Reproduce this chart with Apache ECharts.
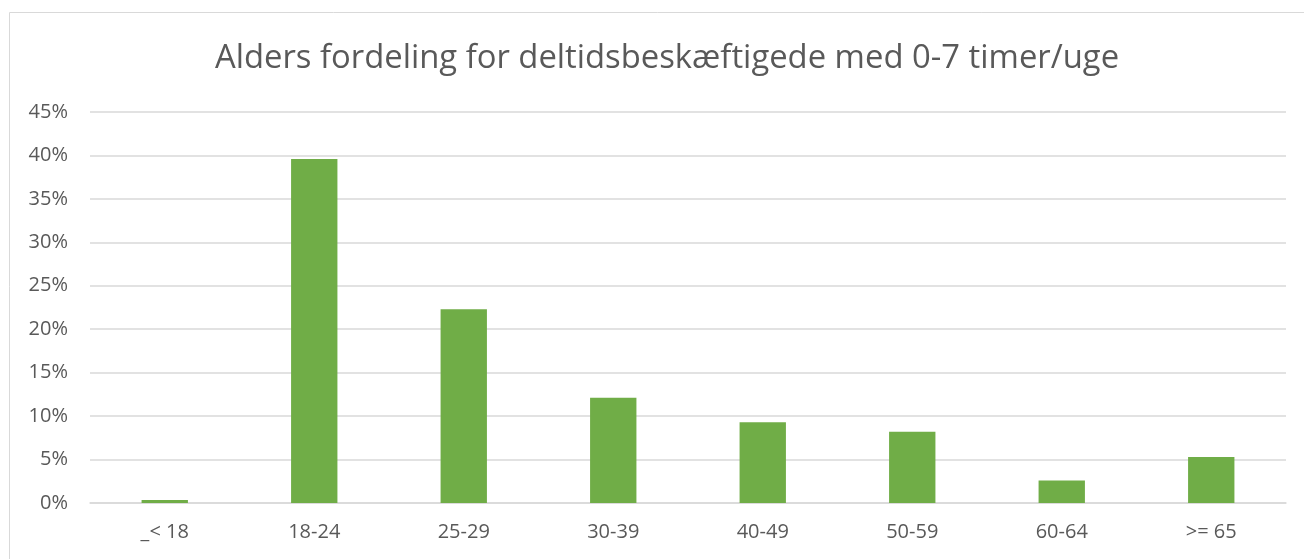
<!DOCTYPE html>
<html>
<head>
<meta charset="utf-8">
<script src="https://cdn.jsdelivr.net/npm/echarts@6/dist/echarts.min.js"></script>
<style>
html,body{margin:0;padding:0;background:#fff}
#main{width:1304px;height:559px}
</style>
</head>
<body>
<div id="main"></div>
<script>
var categories = ["_< 18", "18-24", "25-29", "30-39", "40-49", "50-59", "60-64", ">= 65"];
var shares = [0.35, 39.6, 22.3, 12.1, 9.3, 8.2, 2.6, 5.3];
var yTicks = [0, 5, 10, 15, 20, 25, 30, 35, 40, 45];

var chart = echarts.init(document.getElementById("main"));
var option = {
    animation: false,
    textStyle: { fontFamily: "Open Sans" },
    graphic: [{
        type: "rect",
        shape: { x: 9.5, y: 12.5, width: 1300, height: 560 },
        style: { fill: "none", stroke: "#d9d9d9", lineWidth: 1 }
    }],
    title: {
        text: "Alders fordeling for deltidsbeskæftigede med 0-7 timer/uge",
        left: 662,
        textAlign: "center",
        top: 37,
        textStyle: { color: "#595959", fontSize: 32.8, fontWeight: "normal", fontFamily: "Open Sans" }
    },
    grid: { left: 90, right: 18, top: 112, bottom: 56 },
    xAxis: {
        type: "category",
        data: categories,
        axisLine: { show: true, lineStyle: { color: "#d9d9d9", width: 1.5 } },
        axisTick: { show: false },
        axisLabel: { color: "#595959", fontSize: 20, margin: 19 }
    },
    yAxis: {
        type: "value",
        min: yTicks[0],
        max: yTicks[yTicks.length - 1],
        interval: 5,
        axisLine: { show: false },
        axisTick: { show: false },
        splitLine: { lineStyle: { color: "#d9d9d9", width: 1.5 } },
        axisLabel: { color: "#595959", fontSize: 20, margin: 22, formatter: "{value}%" }
    },
    series: [{
        type: "bar",
        data: shares,
        barWidth: "31%",
        itemStyle: { color: "#70ad47" }
    }]
};
chart.setOption(option);
</script>
</body>
</html>
